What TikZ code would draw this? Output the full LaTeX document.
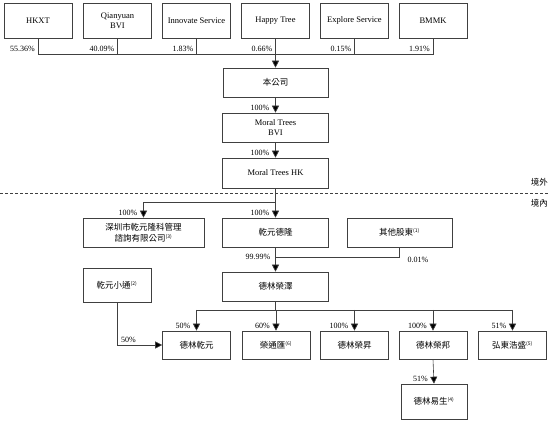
\documentclass[tikz,border=0pt]{standalone}
\usepackage{fontspec}
\setmainfont{Liberation Serif}
\newfontfamily\cjk{Noto Sans CJK TC}
\usetikzlibrary{arrows.meta,calc}
\newcommand{\snote}[1]{\textsuperscript{\fontsize{5}{5}\selectfont(#1)}}

\begin{document}
\begin{tikzpicture}[x=1pt,y=-1pt,
    box/.style={draw=black!75, line width=0.6pt, minimum width=68pt, minimum height=35pt,
      inner sep=1pt, align=center, font=\fontsize{8.5}{10}\selectfont},
    wbox/.style={box, minimum width=106pt, minimum height=29pt},
    zh/.style={font={\cjk\fontsize{8.5}{11}\selectfont}},
    pct/.style={font=\fontsize{8}{10}\selectfont, inner sep=0pt},
    link/.style={draw=black!75, line width=0.6pt},
    arr/.style={link, -{Triangle[width=7pt,length=7pt,fill=black]}}]
  \useasboundingbox (0,0) rectangle (550,425);

  % shareholders
  \node[box] (hkxt) at (38,20.5) {HKXT};
  \node[box] (qy) at (117.5,20.5) {Qianyuan\\BVI};
  \node[box] (inno) at (196.5,20.5) {Innovate Service};
  \node[box] (happy) at (275.5,20.5) {Happy Tree};
  \node[box] (expl) at (354.5,20.5) {Explore Service};
  \node[box] (bmmk) at (433,20.5) {BMMK};
  \coordinate (bus) at (0,54);

  % offshore chain
  \node[wbox, zh, minimum width=105pt] (gs) at (275.5,82.5) {本公司};
  \node[wbox] (bvi) at (275.5,127.5) {Moral Trees\\BVI};
  \node[wbox, minimum height=30pt] (hk) at (275.5,173) {Moral Trees HK};

  \draw[link, dash pattern=on 3pt off 2pt] (0,193) -- (550,193);
  \node[zh, anchor=east, inner sep=0pt] (jw) at (548,182) {境外};
  \node[zh, anchor=east, inner sep=0pt] (jn) at (548,203) {境內};

  % onshore
  \node[wbox, zh, minimum width=121pt] (sz) at (143.5,232.5) {深圳市乾元隆科管理\\諮詢有限公司\snote{3}};
  \node[wbox, zh] (qydl) at (275.5,232.5) {乾元德隆};
  \node[wbox, zh, minimum width=105pt] (qt) at (399.5,232.5) {其他股東\snote{1}};
  \node[wbox, zh] (dlrz) at (275.5,286.5) {德林榮澤};
  \node[box, zh, minimum height=34pt] (qyxt) at (117,285) {乾元小通\snote{2}};
  \coordinate (bus2) at (0,310);

  \node[box, zh, minimum height=28pt] (dlqy) at (196.5,345) {德林乾元};
  \node[box, zh, minimum height=28pt] (rth) at (276,345) {榮通匯\snote{6}};
  \node[box, zh, minimum height=28pt] (dlrs) at (354.5,345) {德林榮昇};
  \node[box, zh, minimum height=28pt] (dlrb) at (433,345) {德林榮邦};
  \node[box, zh, minimum height=28pt] (hdhs) at (512.5,345) {弘東浩盛\snote{5}};
  \node[box, zh, minimum width=66pt] (dlys) at (434,401.5) {德林易生\snote{4}};

  % top bus
  \draw[link] (hkxt.south) -- (hkxt.south |- bus) -- (bmmk.south |- bus) -- (bmmk.south);
  \foreach \n in {qy,inno,expl}
    \draw[link] (\n.south) -- (\n.south |- bus);
  \foreach \n/\p in {hkxt/55.36,qy/40.09,inno/1.83,happy/0.66,expl/0.15,bmmk/1.91}
    \node[pct, anchor=south east, xshift=-3pt, yshift=2pt] at (\n.south |- bus) {\p\%};
  \draw[arr] (happy.south) -- (gs.north);
  \draw[arr] (gs.south) -- (bvi.north);
  \draw[arr] (bvi.south) -- (hk.north);
  \draw[arr] (hk.south) -- (qydl.north);
  \draw[arr] (hk.south |- 0,202) -| (sz.north);
  \draw[link] (qt.south) |- (qydl.south |- 0,257);
  \draw[arr] (qydl.south) -- (dlrz.north);
  \draw[link] (dlqy.north |- bus2) -- (hdhs.north |- bus2);
  \draw[link] (dlrz.south) -- (dlrz.south |- bus2);
  \foreach \n in {dlqy,rth,dlrs,dlrb,hdhs}
    \draw[arr] (\n.north |- bus2) -- (\n.north);
  \draw[arr] (qyxt.south) |- (dlqy.west);
  \draw[arr] (dlrb.south) -- (dlys.north);

  % percentages
  \foreach \n/\p in {bvi/100,hk/100,sz/100,qydl/100,dlqy/50,rth/60,dlrs/100,dlrb/100,hdhs/51,dlys/51}
    \node[pct, anchor=south east, xshift=-6pt, yshift=1.5pt] at (\n.north) {\p\%};
  \node[pct, anchor=east, xshift=-5pt] at (dlrz.north |- 0,257) {99.99\%};
  \node[pct, anchor=west, xshift=8pt, yshift=-3pt] at (qt.south |- 0,257) {0.01\%};
  \node[pct, anchor=south west, xshift=4pt, yshift=2pt] at (qyxt.south |- dlqy.west) {50\%};
\end{tikzpicture}
\end{document}
